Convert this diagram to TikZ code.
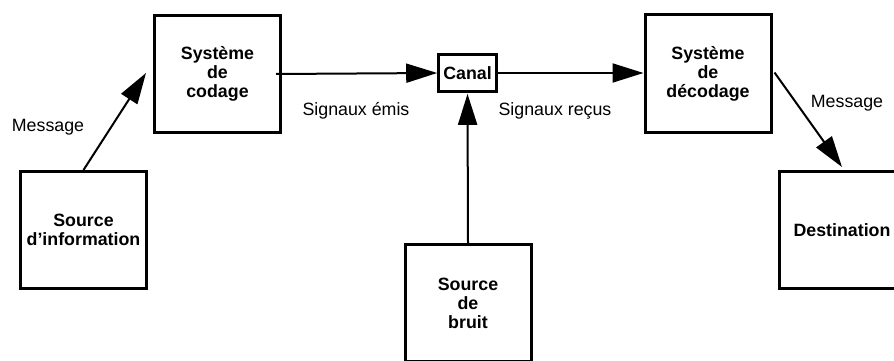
\documentclass[tikz,border=0pt]{standalone}
\usepackage{fontspec}
\setmainfont{Liberation Sans}
\usetikzlibrary{arrows.meta}
\begin{document}
\begin{tikzpicture}[x=1pt,y=-1pt,
  box/.style={draw, line width=3pt, minimum width=126pt, minimum height=117pt, align=center, inner sep=0pt,
    font=\fontsize{17.8}{19}\selectfont\bfseries},
  smallbox/.style={draw, line width=2.6pt, minimum width=58pt, minimum height=37pt, inner sep=0pt,
    font=\fontsize{17.8}{19}\selectfont\bfseries},
  lbl/.style={font=\fontsize{17.8}{19}\selectfont, inner sep=0pt},
  arr/.style={line width=2pt, -{Triangle[length=31pt,width=19pt]}}]
\useasboundingbox (0,0) rectangle (894,361);
\clip (0,0) rectangle (894,361);
\node[box] (src) at (83.5,230) {Source\\d\symbol{39}information};
\node[box] (cod) at (217.5,74) {Système\\de\\codage};
\node[smallbox] (can) at (467.5,73) {Canal};
\node[box] (dec) at (708,73.5) {Système\\de\\décodage};
\node[box] (bru) at (468,303) {Source\\de\\bruit};
\node[box] (dst) at (842,230) {Destination};
\draw[arr] (src.north) -- ([xshift=-7pt,yshift=1pt]cod.west);
\draw[arr] ([xshift=-6pt]cod.east) -- (can.west);
\draw[arr] (can.east) -- (can.east -| dec.west);
\draw[arr] (bru.north) -- ([yshift=-1pt]can.south);
\draw[arr] ([xshift=2pt,yshift=1pt]dec.east) -- ([yshift=3pt]dst.north);
\node[lbl] (m1) at (48,127) {Message};
\node[lbl] (se) at (356,111) {Signaux émis};
\node[lbl] (sr) at (555,111) {Signaux reçus};
\node[lbl] (m2) at (847,103) {Message};
\end{tikzpicture}
\end{document}
